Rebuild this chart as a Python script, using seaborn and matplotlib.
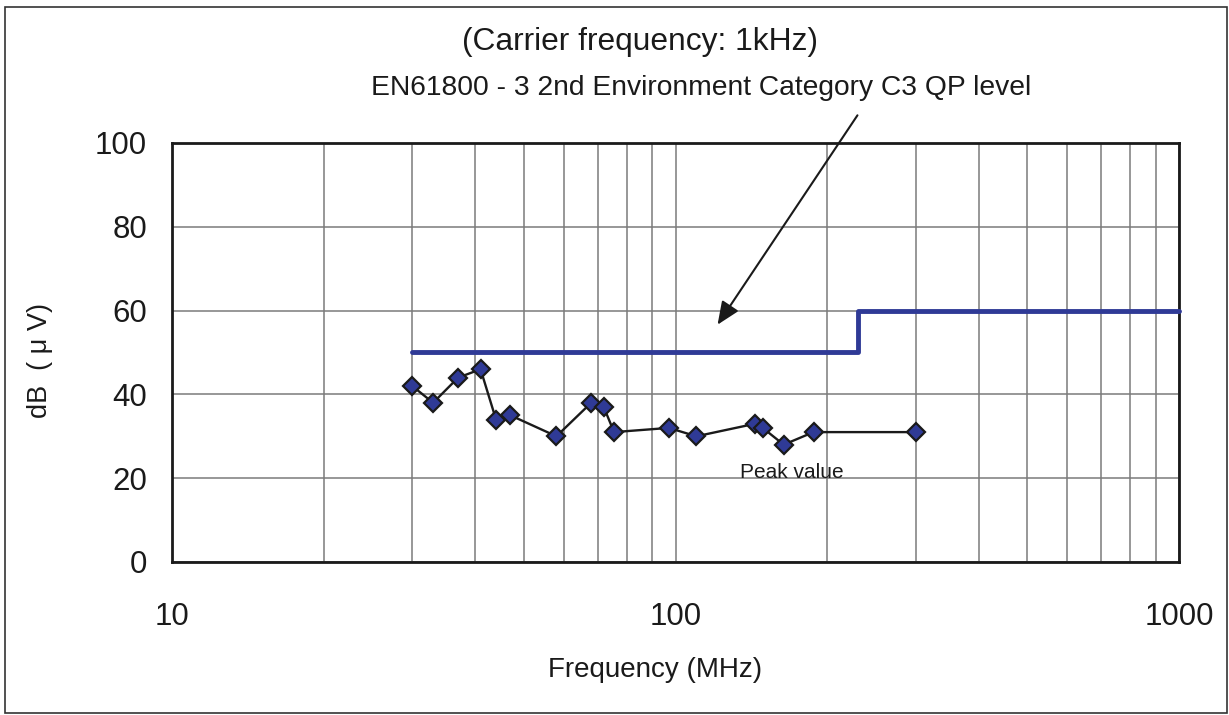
import numpy as np
import pandas as pd
import matplotlib
matplotlib.use("Agg")
import matplotlib.pyplot as plt
from matplotlib.patches import Rectangle
import seaborn as sns

# Measured peak values
freq_mhz = [30, 33, 37, 41, 44, 47, 58, 68, 72, 75.5, 97, 110, 144, 149, 164, 188, 300]
level_db = [42, 38, 44, 46, 34, 35, 30, 38, 37, 31, 32, 30, 33, 32, 28, 31, 31]

# EN61800-3 C3 QP limit (step)
limit_freq = [30, 230, 1000]
limit_level = [50, 60, 60]

x_ticks = [10, 100, 1000]
y_ticks = [0, 20, 40, 60, 80, 100]

sns.set_theme(style="white")
plt.rcParams['font.family'] = ['Liberation Sans', 'DejaVu Sans']

fig = plt.figure(figsize=(12.29, 7.15), dpi=100)
ax = fig.add_axes([0.1400, 0.214, 0.8193, 0.586])

blue = '#2f3a96'

limit_df = pd.DataFrame({'f': limit_freq, 'l': limit_level})
sns.lineplot(data=limit_df, x='f', y='l', ax=ax, color=blue, linewidth=3.5,
             drawstyle='steps-post', zorder=3, clip_on=False)

df = pd.DataFrame({'f': freq_mhz, 'l': level_db})
sns.lineplot(data=df, x='f', y='l', ax=ax, color='#1a1a1a', linewidth=1.7,
             marker='D', markersize=9, markerfacecolor=blue,
             markeredgecolor='#1a1a1a', markeredgewidth=1.6, zorder=4)

ax.set_xscale('log')
ax.set_xlim(10, 1000)
ax.set_ylim(0, 100)
ax.set_xticks(x_ticks)
ax.set_xticklabels([str(t) for t in x_ticks])
ax.xaxis.set_minor_locator(matplotlib.ticker.LogLocator(base=10, subs=np.arange(2, 10)))
ax.xaxis.set_minor_formatter(matplotlib.ticker.NullFormatter())
ax.set_yticks(y_ticks)
ax.grid(True, which='both', color='#7a7a7a', linewidth=1.1)
ax.tick_params(axis='both', which='both', length=0, labelsize=22.5, colors='#1a1a1a')
ax.tick_params(axis='x', pad=29)
ax.tick_params(axis='y', pad=18)
for s in ax.spines.values():
    s.set_color('#1a1a1a')
    s.set_linewidth(2)

ax.set_xlabel('Frequency (MHz)', fontsize=20, color='#1a1a1a')
ax.xaxis.set_label_coords((655 - 172) / 1007, -(670 - 562) / 419)
ax.set_ylabel('dB  ( μ V)', fontsize=19.5, color='#1a1a1a')
ax.yaxis.set_label_coords(-(172 - 40) / 1007, 0.48)
ax.yaxis.label.set_va('center')
ax.xaxis.label.set_va('center')

ax.text((792 - 172) / 1007, (562 - 473) / 419, 'Peak value', transform=ax.transAxes,
        fontsize=15, color='#1a1a1a', ha='center', va='center')

fig.text(640/1229, 1 - 42/715, '(Carrier frequency: 1kHz)', fontsize=22.9,
         ha='center', va='center', color='#1a1a1a')
fig.text(701/1229, 1 - 88/715, 'EN61800 - 3 2nd Environment Category C3 QP level',
         fontsize=20.3, ha='center', va='center', color='#1a1a1a')

fig.add_artist(matplotlib.patches.FancyArrowPatch(
    (859/1229, 1 - 113/715), (716/1229, 1 - 327/715), transform=fig.transFigure,
    arrowstyle='-|>,head_length=14,head_width=6', mutation_scale=1,
    color='#1a1a1a', linewidth=1.5))

fig.add_artist(Rectangle((5/1229, 2/715), 1222/1229, 706/715, transform=fig.transFigure,
                         fill=False, edgecolor='#333333', linewidth=1.2))

fig.savefig('out.png', dpi=100)
